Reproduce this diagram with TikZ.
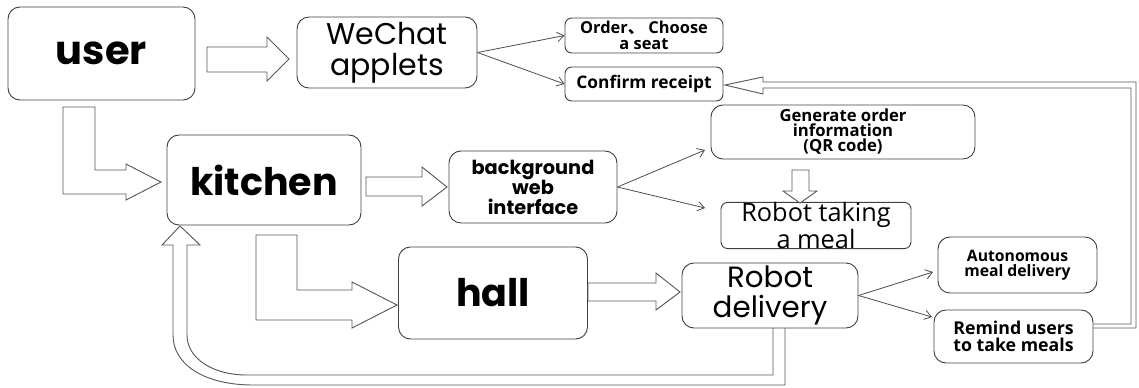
\documentclass[tikz,border=0pt]{standalone}
\usepackage{fontspec}
\setmainfont{Poppins}
\newfontfamily\gothic{Open Sans}
\newfontfamily\cjk{Noto Sans CJK SC}
\usetikzlibrary{calc,arrows.meta}

\begin{document}
\begin{tikzpicture}[x=0.75pt,y=-0.75pt]
            \tikzset{
                stage/.style={
                    draw=black!75,
                    line width=0.7pt,
                    rounded corners=9pt,
                    align=center,
                    inner sep=0pt
                },
                small/.style={
                    stage,
                    rounded corners=5pt
                },
                boxsize/.style 2 args={
                    minimum width=#1*0.75pt,
                    minimum height=#2*0.75pt
                }
            }
            \tikzset{
                block/.style={
                    draw=black!65,
                    line width=0.7pt,
                    fill=white
                }
            }
            \tikzset{
                flow/.style={
                    draw=black!70,
                    line width=0.6pt,
                    -{Straight Barb[length=5pt,width=7pt]}
                }
            }

            \useasboundingbox (0,0) rectangle (1139,387);

            % top row
            \node[stage, boxsize={187}{93}, font=\fontsize{30}{32}\selectfont\bfseries] (user) at (101.5,53.5) {user};
            \node[stage, boxsize={180}{71}, font=\fontsize{22.5}{23.5}\selectfont] (wechat) at (387,52.5) {WeChat\\applets};
            \node[small, boxsize={158}{35}, font=\gothic\bfseries\fontsize{12.3}{11.5}\selectfont] (order) at (644,35.5) {Order{\cjk 、} Choose\\a seat};
            \node[small, boxsize={158}{34}, font=\gothic\bfseries\fontsize{13}{12}\selectfont] (confirm) at (644,84) {Confirm receipt};

            % kitchen row
            \node[stage, boxsize={194}{90}, font=\fontsize{28.5}{30}\selectfont\bfseries] (kitchen) at (264,180) {kitchen};
            \node[stage, boxsize={168}{72}, font=\fontsize{14.5}{15}\selectfont\bfseries] (web) at (533,187) {background\\web\\interface};
            \node[stage, boxsize={264}{54}, font=\gothic\bfseries\fontsize{12.5}{11.3}\selectfont] (gen) at (843,132) {Generate order\\information\\(QR code)};
            \node[small, boxsize={190}{45}, font=\gothic\fontsize{19}{16.5}\selectfont] (take) at (816,225.5) {Robot taking\\a meal};

            % hall row
            \node[stage, boxsize={189}{92}, font=\fontsize{28.5}{30}\selectfont\bfseries] (hall) at (493,293) {hall};
            \node[stage, boxsize={176}{65}, font=\fontsize{22}{23}\selectfont] (deliv) at (770,295.5) {Robot\\delivery};
            \node[stage, boxsize={159}{56}, font=\gothic\bfseries\fontsize{11.8}{11.3}\selectfont] (auto) at (1017.5,265) {Autonomous\\meal delivery};
            \node[stage, boxsize={159}{53}, font=\gothic\bfseries\fontsize{13.3}{12.5}\selectfont] (remind) at (1013.5,336.5) {Remind users\\to take meals};

            % block arrows
            \draw[block] (207,47) -- (267,47) -- (267,37) -- (289,59) -- (267,81) -- (267,72) -- (207,72) -- cycle;
            \draw[block] (63,107) -- (63,194) -- (126,194) -- (126,200) -- (161,182) -- (126,164) -- (126,170) -- (95,170) -- (95,107) -- cycle;
            \draw[block] (366,177) -- (422,177) -- (422,167) -- (447,187) -- (422,206) -- (422,196) -- (366,196) -- cycle;
            \draw[block] (256,235) -- (256,320) -- (352,320) -- (352,328) -- (397,305) -- (352,282) -- (352,290) -- (297,290) -- (297,235) -- cycle;
            \draw[block] (588,283) -- (656,283) -- (656,273) -- (680,292) -- (656,310) -- (656,301) -- (588,301) -- cycle;
            \draw[block] (792,170) -- (809,170) -- (809,191) -- (817,191) -- (800,203) -- (783,191) -- (792,191) -- cycle;

            % feedback arrows
            \draw[block, fill=none] (remind.east |- 0,328) -- (1136,328) -- (1136,82) -- (763,82) -- (763,77) -- (725,85) -- (763,94) -- (763,88) -- (1131,88) -- (1131,324) -- (remind.east |- 0,324);
            \draw[block, fill=none] (785,328) -- (785,385) -- (253,385) .. controls (205,385) and (173,365) .. (173,335) -- (173,245) -- (162,245) -- (180,226) -- (200,245) -- (187,245) -- (187,335) .. controls (187,358) and (212,375) .. (247,375) -- (773,375) -- (773,328);

            % thin connectors
            \coordinate (genin) at (705,150);
            \coordinate (takein) at (705,208);
            \coordinate (autoin) at (933,272);
            \coordinate (remindin) at (932,317);

            \draw[flow] (wechat.east) -- (order.west);
            \draw[flow] (wechat.east) -- (confirm.west);
            \draw[flow] (web.east) -- (genin);
            \draw[flow] (web.east) -- (takein);
            \draw[flow] (deliv.east) -- (autoin);
            \draw[flow] (deliv.east) -- (remindin);
        \end{tikzpicture}
\end{document}
